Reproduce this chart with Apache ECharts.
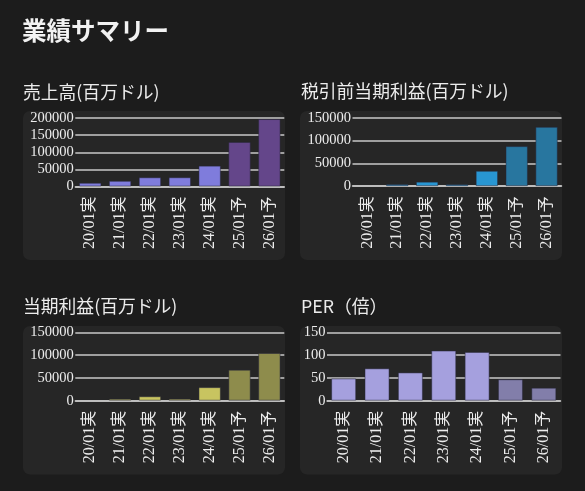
<!DOCTYPE html>
<html><head><meta charset="utf-8">
<script src="https://cdn.jsdelivr.net/npm/echarts@6/dist/echarts.min.js"></script>
<style>html,body{margin:0;padding:0;background:#1c1c1c;}#c{width:585px;height:491px;}</style>
</head><body><div id="c"></div>
<script>
const categories = ['20/01実','21/01実','22/01実','23/01実','24/01実','25/01予','26/01予'];
const revenue = [10918, 16675, 26914, 26974, 60922, 130000, 197000];
const pretax = [null, 4409, 9941, 4181, 33818, 87800, 130000];
const netIncome = [null, 4332, 9752, 4368, 29760, 68000, 104600];
const per = [49, 71, 62, 110, 107, 47, 28.5];
const titles = ['売上高(百万ドル)','税引前当期利益(百万ドル)','当期利益(百万ドル)','PER（倍）'];

const panels = [
  {x:23, y:111, w:262, h:149, tx:23, ty:83, grid:{left:75.3, top:118, width:209, height:68.5}, max:200000, interval:50000, data:revenue, colors:['#7f7cdc','#64468a']},
  {x:300, y:111, w:262, h:149, tx:301, ty:82, grid:{left:352.5, top:117.7, width:209, height:68.5}, max:150000, interval:50000, data:pretax, colors:['#2896d2','#28769f']},
  {x:23, y:326, w:262, h:148.5, tx:23, ty:297, grid:{left:75.3, top:332.3, width:209, height:68.4}, max:150000, interval:50000, data:netIncome, colors:['#c8c460','#8e8c4c']},
  {x:300, y:326, w:262, h:148.5, tx:301, ty:297, grid:{left:327, top:332.3, width:233.5, height:68.4}, max:150, interval:50, data:per, colors:['#a5a0de','#827eaa']}
];

const serif = "'Liberation Serif','Noto Sans CJK JP',serif";
const sans = "'Noto Sans CJK JP','Noto Sans',sans-serif";
const option = {
  backgroundColor:'#1c1c1c',
  animation:false,
  title:[{text:'業績サマリー', left:22, top:18, padding:0, textStyle:{color:'#f2f2f2', fontSize:24.5, fontWeight:'bold', fontFamily:sans}}]
    .concat(panels.map((p,i)=>({text:titles[i], left:p.tx, top:p.ty, padding:0, textStyle:{color:'#ececec', fontSize:17.8, fontWeight:'normal', fontFamily:sans}}))),
  graphic: panels.map(p=>({type:'rect', z:-10, shape:{x:p.x, y:p.y, width:p.w, height:p.h, r:7}, style:{fill:'#262626'}})),
  grid: panels.map(p=>p.grid),
  xAxis: panels.map((p,i)=>({type:'category', gridIndex:i, data:categories,
    axisLine:{show:true, lineStyle:{color:'#c8c8c8', width:1.5}}, axisTick:{show:false},
    axisLabel:{rotate:90, margin:10, color:'#ececec', fontSize:16, fontFamily:serif}})),
  yAxis: panels.map((p,i)=>({type:'value', gridIndex:i, min:0, max:p.max, interval:p.interval,
    axisLine:{show:false}, axisTick:{show:false},
    splitLine:{lineStyle:{color:'#c8c8c8', width:1.5}},
    axisLabel:{margin:1.5, color:'#ececec', fontSize:14.5, fontFamily:serif, formatter:v=>String(v)}})),
  series: panels.map((p,i)=>({type:'bar', xAxisIndex:i, yAxisIndex:i, barCategoryGap:'25%',
    data:p.data.map((v,j)=>({value:v, itemStyle:{color: categories[j].indexOf('予')>=0 ? p.colors[1] : p.colors[0], borderColor:'rgba(40,40,60,0.5)', borderWidth:1}}))}))
};
echarts.init(document.getElementById('c')).setOption(option);
</script></body></html>
